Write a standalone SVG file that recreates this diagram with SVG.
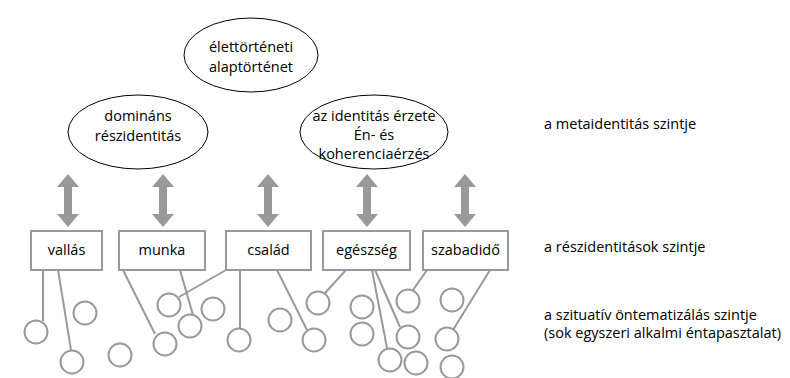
<svg xmlns="http://www.w3.org/2000/svg" width="790" height="378" viewBox="0 0 790 378">
<style>
text{font-family:"Open Sans","Noto Sans","Liberation Sans",sans-serif;font-size:14.5px;fill:#000}
.c{text-anchor:middle}
.ell{fill:#fff;stroke:#000;stroke-width:1}
.box{fill:#fff;stroke:#999;stroke-width:2}
.ln{stroke:#999;stroke-width:2;fill:none}
.cir{fill:none;stroke:#999;stroke-width:2}
.arr{fill:#999}
</style>
<defs>
<path id="dbl" d="M0,0 L11,13 L4,13 L4,40 L11,40 L0,53 L-11,40 L-4,40 L-4,13 L-11,13 Z"/>
</defs>
<g id="meta-ellipses">
<g id="n-top"><ellipse class="ell" cx="251" cy="55" rx="67" ry="37"/><text class="c" x="251" y="52">élettörténeti</text><text class="c" x="251" y="72">alaptörténet</text></g>
<g id="n-dom"><ellipse class="ell" cx="138" cy="132" rx="70" ry="37"/><text class="c" x="138" y="121">domináns</text><text class="c" x="138" y="141">részidentitás</text></g>
<g id="n-erz"><ellipse class="ell" cx="374" cy="132" rx="74" ry="37"/><text class="c" x="374" y="121">az identitás érzete</text><text class="c" x="374" y="140">Én- és</text><text class="c" x="374" y="159">koherenciaérzés</text></g>
</g>
<g id="arrows" class="arr">
<use href="#dbl" x="68" y="174"/>
<use href="#dbl" x="163" y="174"/>
<use href="#dbl" x="268" y="174"/>
<use href="#dbl" x="367" y="174"/>
<use href="#dbl" x="465" y="174"/>
</g>
<g id="connectors" class="ln">
<line x1="43" y1="270" x2="43" y2="321"/>
<line x1="58" y1="270" x2="71" y2="350"/>
<line x1="123" y1="270" x2="155" y2="334"/>
<line x1="180" y1="270" x2="193" y2="315"/>
<line x1="226" y1="270" x2="179" y2="297"/>
<line x1="240" y1="270" x2="240" y2="328"/>
<line x1="277" y1="270" x2="307" y2="330"/>
<line x1="346" y1="270" x2="325" y2="293"/>
<line x1="372" y1="270" x2="387" y2="348"/>
<line x1="375" y1="270" x2="400" y2="327"/>
<line x1="427" y1="270" x2="413" y2="290"/>
<line x1="490" y1="270" x2="453" y2="330"/>
</g>
<g id="boxes">
<g id="n-vallas"><rect class="box" x="31" y="231" width="71" height="39"/><text class="c" x="66.5" y="255">vallás</text></g>
<g id="n-munka"><rect class="box" x="119" y="231" width="86" height="39"/><text class="c" x="162" y="255">munka</text></g>
<g id="n-csalad"><rect class="box" x="226" y="231" width="85" height="39"/><text class="c" x="268.5" y="255">család</text></g>
<g id="n-egeszseg"><rect class="box" x="323" y="231" width="87" height="39"/><text class="c" x="366.5" y="255">egészség</text></g>
<g id="n-szabadido"><rect class="box" x="423" y="231" width="85" height="39"/><text class="c" x="465.5" y="255">szabadidő</text></g>
</g>
<g id="circles" class="cir">
<circle cx="36" cy="332" r="11.5"/>
<circle cx="72" cy="362" r="11.5"/>
<circle cx="85" cy="313" r="11.5"/>
<circle cx="120" cy="355" r="11.5"/>
<circle cx="165" cy="344" r="11.5"/>
<circle cx="190" cy="326" r="11.5"/>
<circle cx="169" cy="305" r="11.5"/>
<circle cx="213" cy="309" r="11.5"/>
<circle cx="239" cy="340" r="11.5"/>
<circle cx="280" cy="320" r="11.5"/>
<circle cx="314" cy="340" r="11.5"/>
<circle cx="318" cy="303" r="11.5"/>
<circle cx="362" cy="307" r="11.5"/>
<circle cx="362" cy="334" r="11.5"/>
<circle cx="390" cy="360" r="11.5"/>
<circle cx="408" cy="337" r="11.5"/>
<circle cx="416" cy="363" r="11.5"/>
<circle cx="408" cy="301" r="11.5"/>
<circle cx="452" cy="300" r="11.5"/>
<circle cx="447" cy="339" r="11.5"/>
<circle cx="452" cy="367" r="11.5"/>
</g>
<g id="levels">
<text x="544" y="129">a metaidentitás szintje</text>
<text x="544" y="252">a részidentitások szintje</text>
<text x="544" y="320">a szituatív öntematizálás szintje</text>
<text x="544" y="338">(sok egyszeri alkalmi éntapasztalat)</text>
</g>
</svg>
